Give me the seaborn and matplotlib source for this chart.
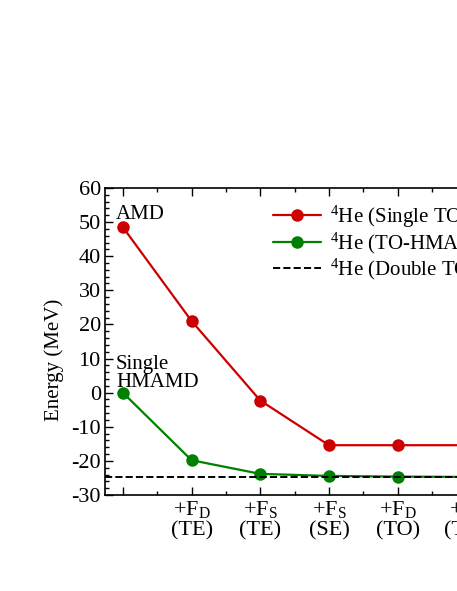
import numpy as np
import pandas as pd
import matplotlib
matplotlib.use('Agg')
import matplotlib.pyplot as plt
import seaborn as sns
from matplotlib.ticker import MultipleLocator

# data
steps = ['', '+F$_\\mathrm{D}$\n(TE)', '+F$_\\mathrm{S}$\n(TE)', '+F$_\\mathrm{S}$\n(SE)',
         '+F$_\\mathrm{D}$\n(TO)', '+F$_\\mathrm{S}$\n(TO)']
single_to = [48.5, 21.0, -2.3, -15.4, -15.4, -15.4]
to_hmamd = [0.0, -19.8, -23.8, -24.4, -24.6, -24.7]
double_to = -24.8

sns.set_theme(style="ticks")
plt.rcParams['font.family'] = ['Liberation Serif', 'DejaVu Serif']
plt.rcParams['mathtext.fontset'] = 'custom'
plt.rcParams['mathtext.rm'] = 'Liberation Serif'
plt.rcParams['mathtext.it'] = 'Liberation Serif:italic'
plt.rcParams['axes.unicode_minus'] = False
plt.rcParams['font.size'] = 16
for key in ['text.color', 'axes.labelcolor', 'xtick.color', 'ytick.color', 'axes.edgecolor']:
    plt.rcParams[key] = 'black'

df = pd.DataFrame({
    'step': np.arange(len(steps)),
    'single': single_to,
    'hmamd': to_hmamd,
})

fig = plt.figure(figsize=(4.57, 5.91), dpi=100)
ax = fig.add_axes([0.2298, 0.1624, 0.98, 0.5196])

sns.lineplot(data=df, x='step', y='single', ax=ax, color='#cc0000', marker='o',
             markersize=9, markeredgewidth=0, linewidth=1.6,
             label='$^4$He (Single TOAMD)')
sns.lineplot(data=df, x='step', y='hmamd', ax=ax, color='#008000', marker='o',
             markersize=9, markeredgewidth=0, linewidth=1.6,
             label='$^4$He (TO-HMAMD)')
ax.axhline(double_to, color='black', linestyle='--', linewidth=1.4,
           label='$^4$He (Double TOAMD)')

ax.set_xlim(-0.26, 6.26)
ax.set_ylim(-30, 60)
ax.yaxis.set_major_locator(MultipleLocator(10))
ax.yaxis.set_minor_locator(MultipleLocator(2))
ax.set_xticks(np.arange(len(steps)))
ax.set_xticklabels(steps, fontsize=16, linespacing=1.05)
ax.xaxis.set_minor_locator(MultipleLocator(0.5))
ax.tick_params(axis='both', which='both', direction='in', top=True, right=True,
               labelsize=16, width=1, colors='black')
ax.tick_params(axis='both', which='major', length=6, pad=3)
ax.tick_params(axis='both', which='minor', length=3)
for s in ax.spines.values():
    s.set_linewidth(1.2)
    s.set_color('black')

ax.set_xlabel('')
ax.set_ylabel('Energy (MeV)', fontsize=15)
ax.yaxis.set_label_coords(-0.0915, 0.44)

ax.text(-0.1, 49.4, 'AMD', fontsize=15, ha='left', va='bottom')
ax.text(-0.1, 0.2, 'Single\nHMAMD', fontsize=15, ha='left', va='bottom', linespacing=0.95)

ax.legend(loc='upper left', bbox_to_anchor=(263 / 457, 1 - 193 / 591),
          bbox_transform=fig.transFigure, frameon=False, fontsize=15,
          handlelength=2.3, labelspacing=0.05, handletextpad=0.4, borderpad=0)

fig.savefig('out.png', dpi=100)
